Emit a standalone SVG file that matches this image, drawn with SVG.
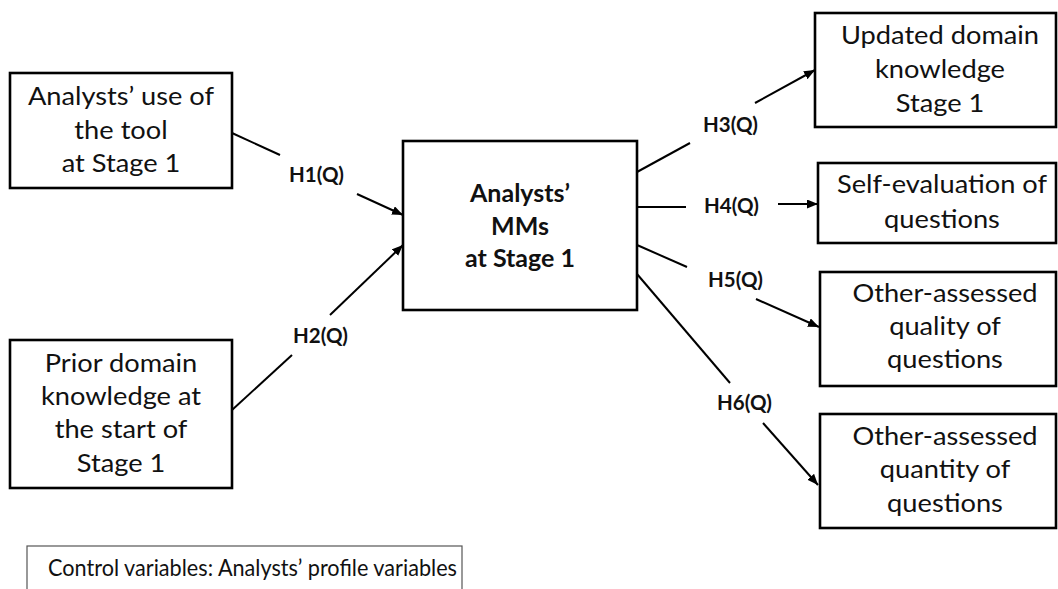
<svg xmlns="http://www.w3.org/2000/svg" width="1058" height="589" viewBox="0 0 1058 589">
  <style>
    .box { fill: #ffffff; stroke: #000000; stroke-width: 2.6; }
    .ctrl { fill: #ffffff; stroke: #555555; stroke-width: 1.2; }
    .txt { font-family: Lato, "Open Sans", "Liberation Sans", sans-serif; font-size: 25px; fill: #111111; text-anchor: middle; }
    .bold { font-weight: bold; }
    .lbl { font-family: Lato, "Open Sans", "Liberation Sans", sans-serif; font-size: 20.5px; font-weight: bold; fill: #111111; }
    .edge { stroke: #000000; stroke-width: 2; fill: none; }
    .arr { marker-end: url(#head); }
  </style>
  <defs>
    <marker id="head" markerUnits="userSpaceOnUse" markerWidth="12" markerHeight="10" refX="11" refY="4.5" orient="auto">
      <path d="M0,0 L11,4.5 L0,9 Z" fill="#000000"/>
    </marker>
  </defs>
  <rect width="1058" height="589" fill="#ffffff"/>

  <!-- connectors: each hypothesis path is split around its label -->
  <g id="connectors">
    <line class="edge" x1="232" y1="133" x2="280" y2="155"/>
    <line class="edge arr" x1="357" y1="194" x2="403" y2="215"/>
    <line class="edge" x1="232" y1="410" x2="292" y2="355"/>
    <line class="edge arr" x1="330" y1="315" x2="403" y2="245"/>
    <line class="edge" x1="637" y1="172" x2="690" y2="143"/>
    <line class="edge arr" x1="755" y1="103" x2="815" y2="70"/>
    <line class="edge" x1="637" y1="207" x2="686" y2="207"/>
    <line class="edge arr" x1="778" y1="204" x2="818" y2="204"/>
    <line class="edge" x1="637" y1="245" x2="687" y2="267"/>
    <line class="edge arr" x1="756" y1="299" x2="819" y2="327"/>
    <line class="edge" x1="637" y1="274" x2="730" y2="383"/>
    <line class="edge arr" x1="763" y1="423" x2="818" y2="485"/>
    <text class="lbl" x="289" y="182">H1(Q)</text>
    <text class="lbl" x="293" y="343">H2(Q)</text>
    <text class="lbl" x="703" y="132">H3(Q)</text>
    <text class="lbl" x="704" y="213">H4(Q)</text>
    <text class="lbl" x="708" y="287">H5(Q)</text>
    <text class="lbl" x="717" y="410">H6(Q)</text>
  </g>

  <g id="tool-use">
    <rect class="box" x="10" y="73" width="222" height="115"/>
    <g transform="translate(121 0) scale(1.09 1)">
      <text class="txt" x="0" y="105">Analysts’ use of</text>
      <text class="txt" x="0" y="139">the tool</text>
      <text class="txt" x="0" y="172">at Stage 1</text>
    </g>
  </g>

  <g id="prior-knowledge">
    <rect class="box" x="10" y="340" width="222" height="148"/>
    <g transform="translate(121 0) scale(1.09 1)">
      <text class="txt" x="0" y="372">Prior domain</text>
      <text class="txt" x="0" y="405">knowledge at</text>
      <text class="txt" x="0" y="438">the start of</text>
      <text class="txt" x="0" y="472">Stage 1</text>
    </g>
  </g>

  <g id="mental-models">
    <rect class="box" x="403" y="141" width="234" height="169"/>
    <text class="txt bold" x="520" y="202">Analysts’</text>
    <text class="txt bold" x="520" y="235">MMs</text>
    <text class="txt bold" x="520" y="267">at Stage 1</text>
  </g>

  <g id="updated-knowledge">
    <rect class="box" x="815" y="13" width="241" height="114"/>
    <g transform="translate(940 0) scale(1.09 1)">
      <text class="txt" x="0" y="44">Updated domain</text>
      <text class="txt" x="0" y="78">knowledge</text>
      <text class="txt" x="0" y="112">Stage 1</text>
    </g>
  </g>

  <g id="self-evaluation">
    <rect class="box" x="818" y="163" width="238" height="80"/>
    <g transform="translate(942 0) scale(1.09 1)">
      <text class="txt" x="0" y="193">Self-evaluation of</text>
      <text class="txt" x="0" y="228">questions</text>
    </g>
  </g>

  <g id="quality">
    <rect class="box" x="820" y="272" width="236" height="114"/>
    <g transform="translate(945 0) scale(1.09 1)">
      <text class="txt" x="0" y="302">Other-assessed</text>
      <text class="txt" x="0" y="335">quality of</text>
      <text class="txt" x="0" y="368">questions</text>
    </g>
  </g>

  <g id="quantity">
    <rect class="box" x="820" y="414" width="236" height="114"/>
    <g transform="translate(945 0) scale(1.09 1)">
      <text class="txt" x="0" y="445">Other-assessed</text>
      <text class="txt" x="0" y="478">quantity of</text>
      <text class="txt" x="0" y="512">questions</text>
    </g>
  </g>

  <g id="controls">
    <rect class="ctrl" x="27" y="546" width="435" height="60"/>
    <g transform="translate(48 576) scale(0.93 1)">
      <text class="txt" x="0" y="0" style="text-anchor: start; font-size: 23.3px;">Control variables: Analysts’ profile variables</text>
    </g>
  </g>
</svg>
